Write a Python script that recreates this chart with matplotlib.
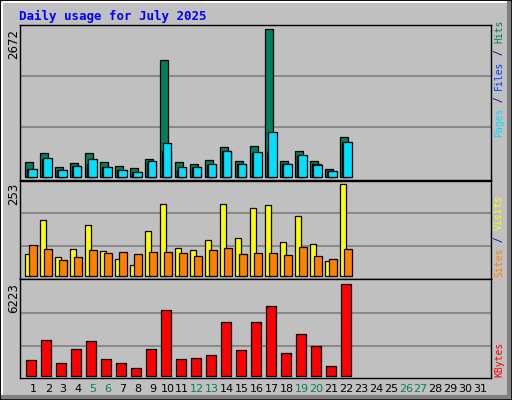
import matplotlib
matplotlib.use("Agg")
import matplotlib.pyplot as plt
from matplotlib.patches import Rectangle
from matplotlib.lines import Line2D

W, H = 512, 400
DIAS = list(range(1, 32))
DIAS_DADOS = list(range(1, 23))
FIM_DE_SEMANA = [5, 6, 12, 13, 19, 20, 26, 27]

HITS = [260, 423, 169, 242, 423, 260, 187, 151, 314, 2110, 260, 224, 296, 532,
        278, 550, 2672, 278, 459, 278, 133, 713]
FILES = [133, 332, 115, 187, 314, 169, 115, 79, 278, 605, 169, 169, 224, 459,
         224, 441, 804, 224, 387, 206, 97, 623]
PAGES = [133, 314, 115, 187, 224, 169, 115, 79, 242, 459, 115, 169, 206, 459,
         224, 423, 441, 224, 369, 224, 97, 623]
VISITS = [60, 154, 52, 74, 140, 69, 47, 30, 124, 198, 77, 72, 99, 198,
          105, 187, 195, 94, 165, 88, 41, 253]
SITES = [85, 74, 44, 52, 72, 63, 66, 60, 66, 66, 63, 55, 72, 77,
         60, 63, 63, 58, 80, 55, 47, 74]
KBYTES = [1045, 2407, 840, 1794, 2339, 1113, 840, 500, 1794, 4451, 1113, 1181,
          1385, 3634, 1726, 3634, 4724, 1522, 2816, 1998, 636, 6223]

FUNDO = "#c0c0c0"
VERDE = "#00805c"
AZUL = "#0040ff"
CIANO = "#00e0ff"
AMARELO = "#ffff00"
LARANJA = "#ff8000"
VERMELHO = "#ff0000"

fig = plt.figure(figsize=(W / 100, H / 100), dpi=100, facecolor=FUNDO)


def fx(px):
    return px / W


def fy(py):
    return 1 - py / H


# moldura externa com relevo
fig.add_artist(Rectangle((0, 0), 1, 1, transform=fig.transFigure, fill=False,
                         edgecolor="black", linewidth=2))
fig.add_artist(Line2D([fx(2), fx(2), fx(509)], [fy(397), fy(2), fy(2)],
                      transform=fig.transFigure, color="white", linewidth=1.5))
fig.add_artist(Line2D([fx(3), fx(509), fx(509)], [fy(397), fy(397), fy(3)],
                      transform=fig.transFigure, color="#808080", linewidth=3))

fig.text(fx(19), fy(16), "Daily usage for July 2025", color="#0000ff",
         family="DejaVu Sans Mono", weight="bold", fontsize=9, va="center")

X0, X1 = 20, 491
XLIM = (0.25, 0.25 + (X1 - X0) / 15)


def novo_eixo(topo, base, linha_base, ymax, ymax_px, grades_px):
    """Eixo em pixels: ymax fica ymax_px acima da linha de base."""
    ax = fig.add_axes([fx(X0), fy(base), fx(X1 - X0), (base - topo) / H])
    ax.set_facecolor(FUNDO)
    ax.set_xlim(*XLIM)
    s = ymax / ymax_px
    ax.set_ylim(-(base - linha_base) * s, (linha_base - topo) * s)
    ax.set_xticks([])
    ax.set_yticks([])
    for lado in ax.spines.values():
        lado.set_color("black")
        lado.set_linewidth(1)
    for g in grades_px:
        ax.axhline((linha_base - g) * s, color="#808080", linewidth=1.2, zorder=0)
    return ax


def texto_vertical(xpx, ybase, partes, tam=7):
    passo = 0.602 * tam * 100 / 72
    y = ybase
    for txt, cor in partes:
        fig.text(fx(xpx), fy(y), txt, rotation=90, color=cor, fontsize=tam,
                 family="DejaVu Sans Mono", ha="center", va="bottom")
        y -= passo * len(txt)


kw = dict(edgecolor="black", linewidth=0.9, align="edge")

# painel 1: hits / files / pages
ax1 = novo_eixo(25, 180, 176.7, 2672, 147.4, [76, 127])
ax1.bar([d - 0.4 for d in DIAS_DADOS], HITS, width=0.5, color=VERDE, **kw)
ax1.bar([d - 0.3 for d in DIAS_DADOS], PAGES, width=0.6, color=AZUL, **kw)
ax1.bar([d - 0.23 for d in DIAS_DADOS], FILES, width=0.58, color=CIANO, **kw)
fig.text(fx(14), fy(29), "2672", rotation=90, ha="center", va="top", fontsize=8.5)
texto_vertical(499, 137, [("Pages", CIANO), (" / ", "#0000a0"), ("Files", AZUL),
                          (" / ", "#0000a0"), ("Hits", VERDE)])

# painel 2: visits / sites
ax2 = novo_eixo(180.5, 279, 276.3, 253, 92, [213.3, 246.3])
ax2.bar([d - 0.4 for d in DIAS_DADOS], VISITS, width=0.35, color=AMARELO, **kw)
ax2.bar([d - 0.17 for d in DIAS_DADOS], SITES, width=0.53, color=LARANJA, **kw)
fig.text(fx(14), fy(183), "253", rotation=90, ha="center", va="top", fontsize=8.5)
texto_vertical(499, 277, [("Sites", LARANJA), (" / ", "#0000a0"), ("Visits", AMARELO)])

# painel 3: kbytes
ax3 = novo_eixo(279, 378, 375.7, 6223, 91.3, [313, 346.3])
ax3.bar([d - 0.37 for d in DIAS_DADOS], KBYTES, width=0.7, color=VERMELHO, **kw)
fig.text(fx(14), fy(283), "6223", rotation=90, ha="center", va="top", fontsize=8.5)
texto_vertical(499, 377, [("KBytes", VERMELHO)])

# rótulos dos dias
for d in DIAS:
    cor = VERDE if d in FIM_DE_SEMANA else "black"
    xpx = 33.3 + (d - 1) * 14.9
    fig.text(fx(xpx), fy(389), str(d), color=cor, fontsize=8,
             ha="center", va="center")

fig.savefig("out.png", dpi=100, facecolor=FUNDO)
